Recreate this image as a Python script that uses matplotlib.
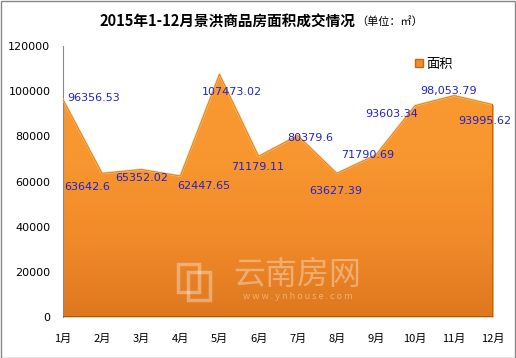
import matplotlib.pyplot as plt
import numpy as np
from matplotlib.colors import LinearSegmentedColormap
from matplotlib.patches import Rectangle

plt.rcParams['font.family'] = ['Noto Sans CJK SC', 'DejaVu Sans']

months = ['1月', '2月', '3月', '4月', '5月', '6月', '7月', '8月', '9月', '10月', '11月', '12月']
area = [96356.53, 63642.6, 65352.02, 62447.65, 107473.02, 71179.11,
        80379.6, 63627.39, 71790.69, 93603.34, 98053.79, 93995.62]
labels = ['96356.53', '63642.6', '65352.02', '62447.65', '107473.02', '71179.11',
          '80379.6', '63627.39', '71790.69', '93603.34', '98,053.79', '93995.62']
# label offsets in points (dx, dy)
offsets = [(22, 1), (-11, -10), (0, -6), (17, -7), (9, -13), (-1, -8),
           (9, -2), (-1, -13), (-6, 0), (-17, -6), (-4, 3), (-6, -12)]

fig = plt.figure(figsize=(5.16, 3.58), dpi=100)
ax = fig.add_axes([0.122, 0.1145, 0.834, 0.757])

x = np.arange(len(months))
ax.set_xlim(0, 11)
ax.set_ylim(0, 120000)

# gradient fill clipped to the area polygon
poly = ax.fill_between(x, area, 0, color='#f59331', lw=0)
cmap = LinearSegmentedColormap.from_list('o', ['#de781f', '#f28b2a', '#f8972f', '#f8992f'])
grad = np.linspace(0, 1, 256).reshape(-1, 1)
im = ax.imshow(grad, cmap=cmap, origin='lower', aspect='auto',
               extent=[0, 11, 0, 110000], zorder=2)
im.set_clip_path(poly.get_paths()[0], transform=ax.transData)
ax.plot(x, area, color='#fbc46c', lw=1.6, alpha=0.8, zorder=3, solid_joinstyle='round')
ax.plot(x, area, color='#d27020', lw=0.5, zorder=3)
ax.plot([11, 11], [0, area[-1]], color='#b8601a', lw=1.2, zorder=3)
ax.plot([0, 11], [0, 0], color='#a85818', lw=1.4, zorder=3)

# watermark
ax.text(6.0, 18600, '云南房网', fontsize=23, color='white',
        alpha=0.35, ha='center', va='center', zorder=4)
ax.text(6.0, 8900, 'w w w . y n h o u s e . c o m', fontsize=6.5, color='white',
        alpha=0.4, ha='center', va='center', zorder=4)
ax.add_patch(Rectangle((2.93, 11000), 0.55, 12500, fill=False, ec='white', lw=2.5,
                       alpha=0.35, zorder=4))
ax.add_patch(Rectangle((3.2, 7500), 0.55, 12500, fill=False, ec='white', lw=2.5,
                       alpha=0.35, zorder=4))

for i, (v, lab) in enumerate(zip(area, labels)):
    ax.annotate(lab, (i, v), xytext=offsets[i], textcoords='offset points',
                ha='center', va='center', fontsize=8, color='#2323c8', zorder=5,
                family='DejaVu Sans')

ax.set_xticks(x)
ax.set_xticklabels(months, fontsize=8)
ax.set_yticks(np.arange(0, 120001, 20000))
ax.set_yticklabels([str(v) for v in range(0, 120001, 20000)], fontsize=8,
                   family='DejaVu Sans')
ax.tick_params(length=0, pad=9)
ax.tick_params(axis='x', pad=12)
for s in ['top', 'right', 'bottom']:
    ax.spines[s].set_visible(False)
ax.spines['left'].set_color('#888888')

leg = ax.legend([Rectangle((0, 0), 1, 1, fc='#f08a2a', ec='#c06818')], ['面积'],
                loc='upper left', bbox_to_anchor=(0.79, 1.0), frameon=False,
                fontsize=9.5, handlelength=0.6, handleheight=0.6, handletextpad=0.3)

fig.text(355 / 516, 1 - 22 / 358, '2015年1-12月景洪商品房面积成交情况', ha='right',
         va='center', fontsize=10.5, fontweight='bold')
fig.text(356 / 516, 1 - 22 / 358, '（单位：㎡）', ha='left', va='center', fontsize=8)

fig.patches.append(Rectangle((0.001, 0.001), 0.997, 0.996, transform=fig.transFigure,
                             fill=False, ec='#888888', lw=1))

fig.savefig('out.png', dpi=100)
